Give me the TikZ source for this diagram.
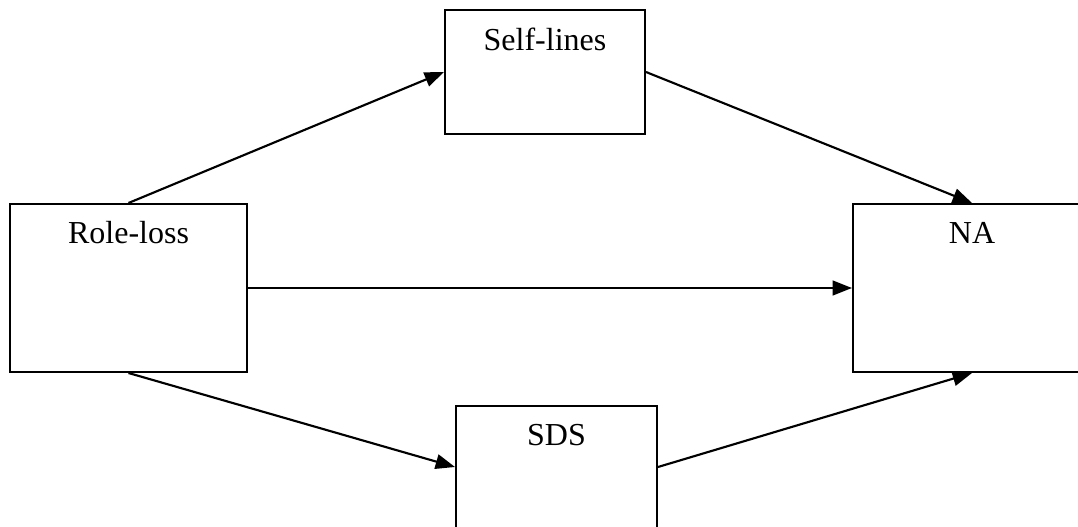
\documentclass[tikz,border=0pt]{standalone}
\usepackage{fontspec}
\setmainfont{Liberation Serif}
\usetikzlibrary{arrows.meta}
\tikzset{
  box/.style={draw, line width=1.5pt, inner sep=0pt, rectangle},
  title/.style={anchor=base, inner sep=0pt, font=\fontsize{24}{28}\selectfont},
  link/.style={line width=1.6pt, -{Triangle[length=14.5pt,width=11pt]}},
}
\begin{document}
\begin{tikzpicture}[x=0.75pt, y=-0.75pt]
  \useasboundingbox (0,0) rectangle (1078,527);
  % boxes
  \node[box, minimum width=177.75pt, minimum height=126pt] (rl)  at (128.5,288) {};
  \node[box, minimum width=150pt,    minimum height=93pt]  (sl)  at (545,72)    {};
  \node[box, minimum width=178.5pt,  minimum height=126pt] (na)  at (972,288)   {};
  \node[box, minimum width=150.75pt, minimum height=91.5pt] (sds) at (556.5,467) {};
  % titles near the top of each box
  \node[title] (rlt)  at ([yshift=-30.5pt]rl.north)  {Role-loss};
  \node[title] (slt)  at ([yshift=-31pt]sl.north)  {Self-lines};
  \node[title] (nat)  at ([yshift=-30.5pt]na.north)  {NA};
  \node[title] (sdst) at ([yshift=-30.5pt]sds.north) {SDS};
  % paths
  \draw[link] (rl.north) -- (sl.west);
  \draw[link] (sl.east)  -- (na.north);
  \draw[link] (rl.east)  -- (na.west);
  \draw[link] (rl.south) -- (sds.west);
  \draw[link] (sds.east) -- (na.south);
\end{tikzpicture}
\end{document}
